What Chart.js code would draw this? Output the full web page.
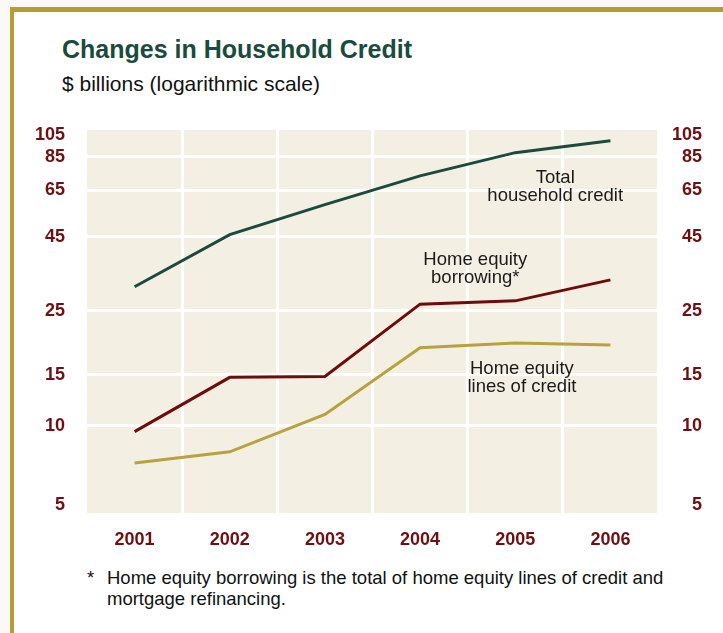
<!DOCTYPE html>
<html>
<head>
<meta charset="utf-8">
<script src="https://cdn.jsdelivr.net/npm/chart.js@4.4.1/dist/chart.umd.min.js"></script>
<style>
  html, body { margin: 0; padding: 0; }
  body { width: 723px; height: 633px; background: #faf9f3; overflow: hidden; position: relative; font-family: "Liberation Sans", Arial, sans-serif; }
  #frame { position: absolute; left: 10px; top: 7px; width: 800px; height: 700px; background: #fff; border-left: 4px solid #b89b35; border-top: 5px solid #b89b35; }
  #title { position: absolute; left: 62px; top: 35px; font-size: 25px; font-weight: bold; color: #1b4a3e; }
  #sub { position: absolute; left: 62px; top: 72px; font-size: 21px; color: #111; }
  #note { position: absolute; left: 87px; top: 567px; font-size: 18.5px; color: #111; line-height: 21px; }
  #note span { position: absolute; left: 20px; top: 0; width: 565px; }
  canvas { position: absolute; left: 0; top: 0; }
</style>
</head>
<body>
<div id="frame"></div>
<div id="title">Changes in Household Credit</div>
<div id="sub">$ billions (logarithmic scale)</div>
<div id="note">*<span>Home equity borrowing is the total of home equity lines of credit and mortgage refinancing.</span></div>
<canvas id="grafik" width="723" height="633"></canvas>
<script>
// tahun dan tick sumbu
const years = ['2001', '2002', '2003', '2004', '2005', '2006'];
const yTicks = [5, 10, 15, 25, 45, 65, 85, 105];

// nilai (miliar dolar)
const totalCredit = [30.2, 45.7, 58.0, 72.9, 87.7, 96.4];
const equityBorrowing = [9.55, 14.7, 14.8, 26.3, 27.0, 31.9];
const equityLines = [7.44, 8.13, 10.95, 18.6, 19.3, 19.0];

// label di dalam grafik: teks, posisi kategori, nilai y
const notes = [
  { text: ['Total', 'household credit'], at: 4.42, val: 72 },
  { text: ['Home equity', 'borrowing*'], at: 3.58, val: 37.3 },
  { text: ['Home equity', 'lines of credit'], at: 4.07, val: 15.7 }
];

const tickRed = '#6e0f12';

// latar area plot
const plotBg = {
  id: 'plotBg',
  beforeDraw(chart) {
    const { ctx, chartArea: a } = chart;
    ctx.save();
    ctx.fillStyle = '#f3f0e3';
    ctx.fillRect(a.left, a.top, a.right - a.left, a.bottom - a.top);
    ctx.restore();
  }
};

// label sumbu y kiri & kanan, ujung atas/bawah digeser masuk
const yLabels = {
  id: 'yLabels',
  afterDraw(chart) {
    const { ctx, chartArea: a } = chart;
    const ys = chart.scales.y;
    ctx.save();
    ctx.font = 'bold 18px "Liberation Sans", Arial, sans-serif';
    ctx.fillStyle = tickRed;
    ctx.textAlign = 'right';
    ctx.textBaseline = 'middle';
    yTicks.forEach(v => {
      let py = ys.getPixelForValue(v);
      py = Math.min(Math.max(py, a.top + 5), a.bottom - 8);
      ctx.fillText(String(v), 65, py);
      ctx.fillText(String(v), 702, py);
    });
    ctx.restore();
  }
};

// teks keterangan tiap garis
const lineNotes = {
  id: 'lineNotes',
  afterDatasetsDraw(chart) {
    const { ctx } = chart;
    const xs = chart.scales.x, ys = chart.scales.y;
    const step = xs.getPixelForValue(1) - xs.getPixelForValue(0);
    ctx.save();
    ctx.font = '18.5px "Liberation Sans", Arial, sans-serif';
    ctx.fillStyle = '#1a1a1a';
    ctx.textAlign = 'center';
    ctx.textBaseline = 'middle';
    notes.forEach(n => {
      const px = xs.getPixelForValue(0) + n.at * step;
      const py = ys.getPixelForValue(n.val);
      n.text.forEach((t, i) => ctx.fillText(t, px, py + i * 18));
    });
    ctx.restore();
  }
};

const ds = [
  { label: 'Total household credit', data: totalCredit, borderColor: '#1b4a3e' },
  { label: 'Home equity borrowing', data: equityBorrowing, borderColor: '#6e0b0b' },
  { label: 'Home equity lines of credit', data: equityLines, borderColor: '#b9a13f' }
].map(d => ({ ...d, borderWidth: 3, pointRadius: 0, tension: 0, fill: false }));

new Chart(document.getElementById('grafik'), {
  type: 'line',
  data: { labels: years, datasets: ds },
  plugins: [plotBg, yLabels, lineNotes],
  options: {
    responsive: false,
    animation: false,
    events: [],
    layout: { padding: { top: 130, bottom: 80, left: 0, right: 0 } },
    plugins: { legend: { display: false }, tooltip: { enabled: false } },
    scales: {
      x: {
        offset: true,
        border: { display: false },
        grid: {
          offset: true,
          drawTicks: false,
          lineWidth: 3,
          color: c => (c.index === 0 || c.index >= years.length) ? 'rgba(0,0,0,0)' : '#ffffff'
        },
        ticks: {
          color: tickRed,
          padding: 16,
          font: { family: '"Liberation Sans", Arial, sans-serif', size: 18, weight: 'bold' }
        },
        afterFit: s => { s.height = 40; }
      },
      y: {
        type: 'logarithmic',
        min: 5,
        max: 105,
        border: { display: false },
        afterBuildTicks: s => { s.ticks = yTicks.map(v => ({ value: v })); },
        grid: {
          drawTicks: false,
          lineWidth: 3,
          color: c => (c.tick && (c.tick.value === 5 || c.tick.value === 105)) ? 'rgba(0,0,0,0)' : '#ffffff'
        },
        ticks: { display: false },
        afterFit: s => { s.width = 87; }
      },
      y2: {
        type: 'logarithmic',
        position: 'right',
        min: 5,
        max: 105,
        border: { display: false },
        grid: { display: false },
        ticks: { display: false },
        afterFit: s => { s.width = 65; }
      }
    }
  }
});
</script>
</body>
</html>
